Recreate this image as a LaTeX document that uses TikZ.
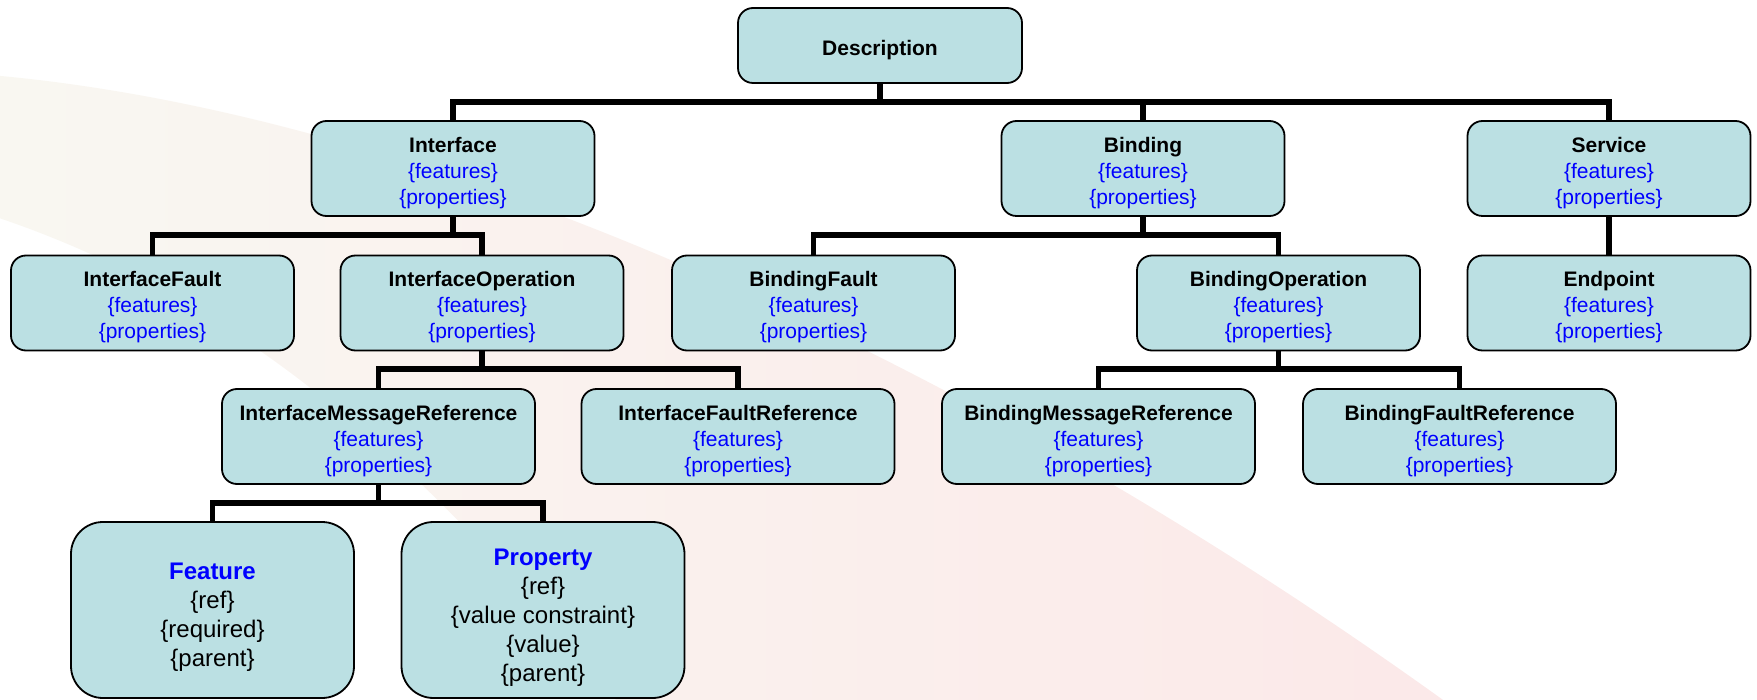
\documentclass[tikz,border=0pt]{standalone}
\usepackage{fontspec}
\setmainfont{Liberation Sans}
\definecolor{boxfill}{HTML}{BBE0E3}
\definecolor{fpblue}{HTML}{0000FF}
\definecolor{featherA}{HTML}{C8B880}
\definecolor{featherB}{HTML}{E89060}
\definecolor{featherC}{HTML}{E02828}
% struts that push the first line down a little inside each box
\newcommand\toprow{\rule{0pt}{24pt}}
\newcommand\topleaf{\rule{0pt}{31pt}}
\newcommand\fplines{\textcolor{fpblue}{\{features\}}\\\textcolor{fpblue}{\{properties\}}}
\tikzset{
  compbox/.style={draw=black, line width=1.8pt, fill=boxfill, rounded corners=15pt,
    minimum height=95pt, align=center, inner sep=0pt,
    font=\fontsize{21}{26}\selectfont},
  narrowbox/.style={compbox, minimum width=283pt},
  widebox/.style={compbox, minimum width=313pt},
  leafbox/.style={draw=black, line width=1.8pt, fill=boxfill, rounded corners=32pt,
    minimum width=283pt, minimum height=176pt, align=center, inner sep=0pt,
    font=\fontsize{24}{29}\selectfont},
  conn/.style={draw=black, line width=5.5pt, line join=miter}
}
\begin{document}
\begin{tikzpicture}[x=1pt,y=-1pt]
\useasboundingbox (0,0) rectangle (1757,700);
\fill[white] (0,0) rectangle (1757,700);

% faint feather watermark behind the tree
\begin{scope}
  \clip (0,0) rectangle (1757,700);
  \shade[left color=featherA, middle color=featherB, right color=featherC, fill opacity=0.10]
    (-10,75) .. controls (450,115) and (1000,380) .. (1450,705)
    -- (620,705) .. controls (440,480) and (250,300) .. (-10,215) -- cycle;
\end{scope}

% components
\node[compbox, minimum width=284pt, minimum height=75pt] (desc) at (880,45.5) {\toprow\textbf{Description}};

\node[narrowbox] (iface) at (453,168.5) {\toprow\textbf{Interface}\\\fplines};
\node[narrowbox] (bind)  at (1143,168.5) {\toprow\textbf{Binding}\\\fplines};
\node[narrowbox] (svc)   at (1609,168.5) {\toprow\textbf{Service}\\\fplines};

\node[narrowbox] (ifault) at (152.5,303) {\toprow\textbf{InterfaceFault}\\\fplines};
\node[narrowbox] (iop)    at (482,303)   {\toprow\textbf{InterfaceOperation}\\\fplines};
\node[narrowbox] (bfault) at (813.5,303) {\toprow\textbf{BindingFault}\\\fplines};
\node[narrowbox] (bop)    at (1278.5,303) {\toprow\textbf{BindingOperation}\\\fplines};
\node[narrowbox] (endp)   at (1609,303)  {\toprow\textbf{Endpoint}\\\fplines};

\node[widebox] (imr) at (378.5,436.5)  {\toprow\textbf{InterfaceMessageReference}\\\fplines};
\node[widebox] (ifr) at (738,436.5)    {\toprow\textbf{InterfaceFaultReference}\\\fplines};
\node[widebox] (bmr) at (1098.5,436.5) {\toprow\textbf{BindingMessageReference}\\\fplines};
\node[widebox] (bfr) at (1459.5,436.5) {\toprow\textbf{BindingFaultReference}\\\fplines};

\node[leafbox] (feat) at (212.5,610) {\topleaf\textcolor{fpblue}{\textbf{Feature}}\\\{ref\}\\\{required\}\\\{parent\}};
\node[leafbox] (prop) at (543,610) {\topleaf\textcolor{fpblue}{\textbf{Property}}\\\{ref\}\\\{value constraint\}\\\{value\}\\\{parent\}};

% tree connectors
\draw[conn] (iface.north) -- ++(0,-18) -| (svc.north);
\draw[conn] (bind.north) -- ++(0,-18);
\draw[conn] (desc.south) -- ++(0,20);

\draw[conn] (ifault.north) -- ++(0,-19.5) -| (iop.north);
\draw[conn] (iface.south) -- ++(0,19.5);
\draw[conn] (bfault.north) -- ++(0,-19.5) -| (bop.north);
\draw[conn] (bind.south) -- ++(0,19.5);
\draw[conn] (svc.south) -- (endp.north);

\draw[conn] (imr.north) -- ++(0,-19) -| (ifr.north);
\draw[conn] (iop.south) -- ++(0,19);
\draw[conn] (bmr.north) -- ++(0,-19) -| (bfr.north);
\draw[conn] (bop.south) -- ++(0,19);

\draw[conn] (feat.north) -- ++(0,-18) -| (prop.north);
\draw[conn] (imr.south) -- ++(0,20);
\end{tikzpicture}
\end{document}
